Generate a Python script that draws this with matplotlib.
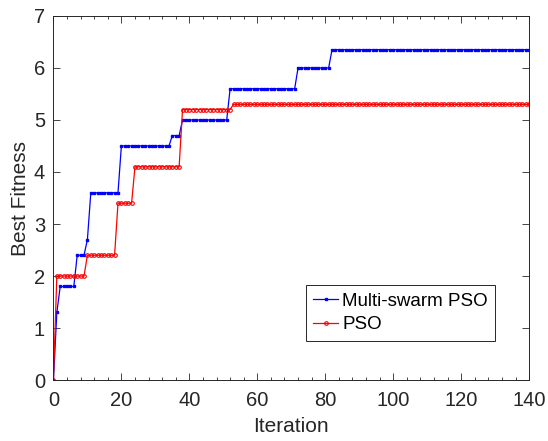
import numpy as np
import matplotlib
matplotlib.use("Agg")
import matplotlib.pyplot as plt
from matplotlib.ticker import MultipleLocator

plt.rcParams['font.family'] = ['Liberation Sans', 'DejaVu Sans']

n_iter = 140

# (start iteration, value) of each step
ms_steps = [(0, 0.0), (1, 1.3), (2, 1.8), (7, 2.4), (10, 2.7), (11, 3.6), (20, 4.5),
            (35, 4.7), (38, 5.0), (52, 5.6), (72, 6.0), (82, 6.35)]
pso_steps = [(0, 0.0), (1, 2.0), (10, 2.4), (19, 3.4), (24, 4.1), (38, 5.2), (53, 5.3)]


def expand(steps):
    vals = np.zeros(n_iter + 1)
    for start, v in steps:
        vals[start:] = v
    return vals


it = np.arange(n_iter + 1)
ms_fit = expand(ms_steps)
pso_fit = expand(pso_steps)

fig = plt.figure(figsize=(5.48, 4.41), dpi=100)
ax = fig.add_axes([0.0975, 0.138, 0.868, 0.826])

ax.plot(it, ms_fit, '-', color='#0000ff', lw=0.9, marker='s', ms=1.6,
        mfc='#0000ff', mec='#0000ff', label='Multi-swarm PSO')
ax.plot(it, pso_fit, '-', color='#ff0000', lw=0.9, marker='o', ms=2.6,
        mfc='none', mec='#ff0000', mew=0.8, label='PSO')

ax.set_xlim(0, 140)
ax.set_ylim(0, 7)
ax.xaxis.set_major_locator(MultipleLocator(20))
ax.xaxis.set_minor_locator(MultipleLocator(4))
ax.yaxis.set_major_locator(MultipleLocator(1))

gray = '#262626'
ax.tick_params(which='both', direction='in', top=True, right=True, colors=gray,
               labelsize=14.5)
ax.tick_params(axis='x', pad=8)
ax.tick_params(axis='y', pad=6)
ax.tick_params(which='major', length=5, width=0.6)
ax.tick_params(which='minor', length=2.5, width=0.6)
for s in ax.spines.values():
    s.set_color(gray)
    s.set_linewidth(0.7)

ax.set_xlabel('Iteration', fontsize=15, color=gray, labelpad=5)
ax.set_ylabel('Best Fitness', fontsize=15, color=gray, labelpad=3)

leg = ax.legend(loc='lower left', bbox_to_anchor=(0.53, 0.108), fontsize=13.5,
                handlelength=1.35, handletextpad=0.2, borderpad=0.4,
                labelspacing=0.35, fancybox=False, framealpha=1,
                edgecolor=gray, borderaxespad=0)
leg.get_frame().set_linewidth(0.7)

fig.savefig('out.png', dpi=100)
